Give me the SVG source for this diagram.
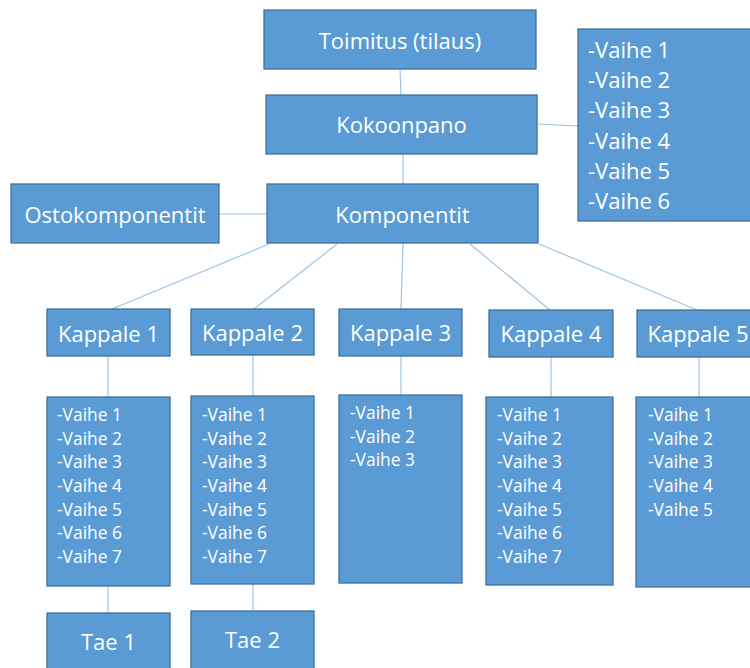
<svg xmlns="http://www.w3.org/2000/svg" width="750" height="668" viewBox="0 0 750 668">
  <style>
    .box { fill: #5B9BD5; stroke: #41719C; stroke-width: 1.3; }
    .lbl { font-family: "Open Sans", "Noto Sans", "Liberation Sans", sans-serif; font-size: 22px; fill: #FFFFFF; text-anchor: middle; }
    .lst { font-family: "Open Sans", "Noto Sans", "Liberation Sans", sans-serif; font-size: 22px; fill: #FFFFFF; }
    .sm { font-family: "Open Sans", "Noto Sans", "Liberation Sans", sans-serif; font-size: 17.4px; fill: #FFFFFF; }
    .conn line { stroke: #9DC3E6; stroke-width: 1.2; fill: none; }
  </style>
  <rect width="750" height="668" fill="#FFFFFF"/>

  <!-- connectors -->
  <g id="connectors" class="conn">
    <line x1="400" y1="69" x2="401" y2="95"/>
    <line x1="403" y1="154" x2="403" y2="184"/>
    <line x1="537" y1="124" x2="578" y2="126"/>
    <line x1="219" y1="214" x2="267" y2="214"/>
    <line x1="269" y1="244" x2="112" y2="309"/>
    <line x1="337" y1="244" x2="254" y2="309"/>
    <line x1="403" y1="243" x2="401" y2="309"/>
    <line x1="470" y1="244" x2="550" y2="310"/>
    <line x1="539" y1="244" x2="697" y2="310"/>
    <line x1="108" y1="356" x2="108" y2="397"/>
    <line x1="253" y1="355" x2="253" y2="396"/>
    <line x1="401" y1="356" x2="401" y2="395"/>
    <line x1="551" y1="357" x2="551" y2="397"/>
    <line x1="699" y1="357" x2="699" y2="397"/>
    <line x1="108" y1="586" x2="108" y2="613"/>
    <line x1="253" y1="584" x2="253" y2="611"/>
  </g>

  <g id="toimitus">
    <rect class="box" x="264" y="10" width="272" height="59"/>
    <text class="lbl" x="400" y="49">Toimitus (tilaus)</text>
  </g>

  <g id="kokoonpano">
    <rect class="box" x="266" y="95" width="271" height="59"/>
    <text class="lbl" x="401.5" y="133">Kokoonpano</text>
  </g>

  <g id="kokoonpano-vaiheet">
    <rect class="box" x="578" y="29" width="190" height="192"/>
    <text class="lst" x="588" y="58">-Vaihe 1</text>
    <text class="lst" x="588" y="88">-Vaihe 2</text>
    <text class="lst" x="588" y="118">-Vaihe 3</text>
    <text class="lst" x="588" y="148.5">-Vaihe 4</text>
    <text class="lst" x="588" y="179">-Vaihe 5</text>
    <text class="lst" x="588" y="209">-Vaihe 6</text>
  </g>

  <g id="komponentit">
    <rect class="box" x="267" y="184" width="271" height="59"/>
    <text class="lbl" x="402.5" y="223">Komponentit</text>
  </g>

  <g id="ostokomponentit">
    <rect class="box" x="11" y="184" width="208" height="59"/>
    <text class="lbl" x="115" y="223">Ostokomponentit</text>
  </g>

  <g id="kappale1">
    <rect class="box" x="47" y="309" width="123" height="47"/>
    <text class="lbl" x="108.5" y="342">Kappale 1</text>
  </g>
  <g id="kappale2">
    <rect class="box" x="191" y="309" width="123" height="46"/>
    <text class="lbl" x="252.5" y="341">Kappale 2</text>
  </g>
  <g id="kappale3">
    <rect class="box" x="339" y="309" width="123" height="47"/>
    <text class="lbl" x="400.5" y="341">Kappale 3</text>
  </g>
  <g id="kappale4">
    <rect class="box" x="489" y="310" width="124" height="47"/>
    <text class="lbl" x="551" y="342">Kappale 4</text>
  </g>
  <g id="kappale5">
    <rect class="box" x="637" y="310" width="130" height="47"/>
    <text class="lbl" x="698" y="342">Kappale 5</text>
  </g>

  <g id="kappale1-vaiheet">
    <rect class="box" x="47" y="397" width="123" height="189"/>
    <text class="sm" x="57" y="421">-Vaihe 1</text>
    <text class="sm" x="57" y="444.7">-Vaihe 2</text>
    <text class="sm" x="57" y="468.3">-Vaihe 3</text>
    <text class="sm" x="57" y="492">-Vaihe 4</text>
    <text class="sm" x="57" y="515.7">-Vaihe 5</text>
    <text class="sm" x="57" y="539.3">-Vaihe 6</text>
    <text class="sm" x="57" y="563">-Vaihe 7</text>
  </g>

  <g id="kappale2-vaiheet">
    <rect class="box" x="191" y="396" width="123" height="188"/>
    <text class="sm" x="202" y="421">-Vaihe 1</text>
    <text class="sm" x="202" y="444.7">-Vaihe 2</text>
    <text class="sm" x="202" y="468.3">-Vaihe 3</text>
    <text class="sm" x="202" y="492">-Vaihe 4</text>
    <text class="sm" x="202" y="515.7">-Vaihe 5</text>
    <text class="sm" x="202" y="539.3">-Vaihe 6</text>
    <text class="sm" x="202" y="563">-Vaihe 7</text>
  </g>

  <g id="kappale3-vaiheet">
    <rect class="box" x="339" y="395" width="123" height="188"/>
    <text class="sm" x="350" y="419">-Vaihe 1</text>
    <text class="sm" x="350" y="442.7">-Vaihe 2</text>
    <text class="sm" x="350" y="466.3">-Vaihe 3</text>
  </g>

  <g id="kappale4-vaiheet">
    <rect class="box" x="486" y="397" width="127" height="188"/>
    <text class="sm" x="497" y="421">-Vaihe 1</text>
    <text class="sm" x="497" y="444.7">-Vaihe 2</text>
    <text class="sm" x="497" y="468.3">-Vaihe 3</text>
    <text class="sm" x="497" y="492">-Vaihe 4</text>
    <text class="sm" x="497" y="515.7">-Vaihe 5</text>
    <text class="sm" x="497" y="539.3">-Vaihe 6</text>
    <text class="sm" x="497" y="563">-Vaihe 7</text>
  </g>

  <g id="kappale5-vaiheet">
    <rect class="box" x="636" y="397" width="130" height="190"/>
    <text class="sm" x="648" y="421">-Vaihe 1</text>
    <text class="sm" x="648" y="444.7">-Vaihe 2</text>
    <text class="sm" x="648" y="468.3">-Vaihe 3</text>
    <text class="sm" x="648" y="492">-Vaihe 4</text>
    <text class="sm" x="648" y="515.7">-Vaihe 5</text>
  </g>

  <g id="tae1">
    <rect class="box" x="47" y="613" width="123" height="70"/>
    <text class="lbl" x="108.5" y="650">Tae 1</text>
  </g>
  <g id="tae2">
    <rect class="box" x="191" y="611" width="123" height="70"/>
    <text class="lbl" x="252.5" y="648">Tae 2</text>
  </g>
</svg>
